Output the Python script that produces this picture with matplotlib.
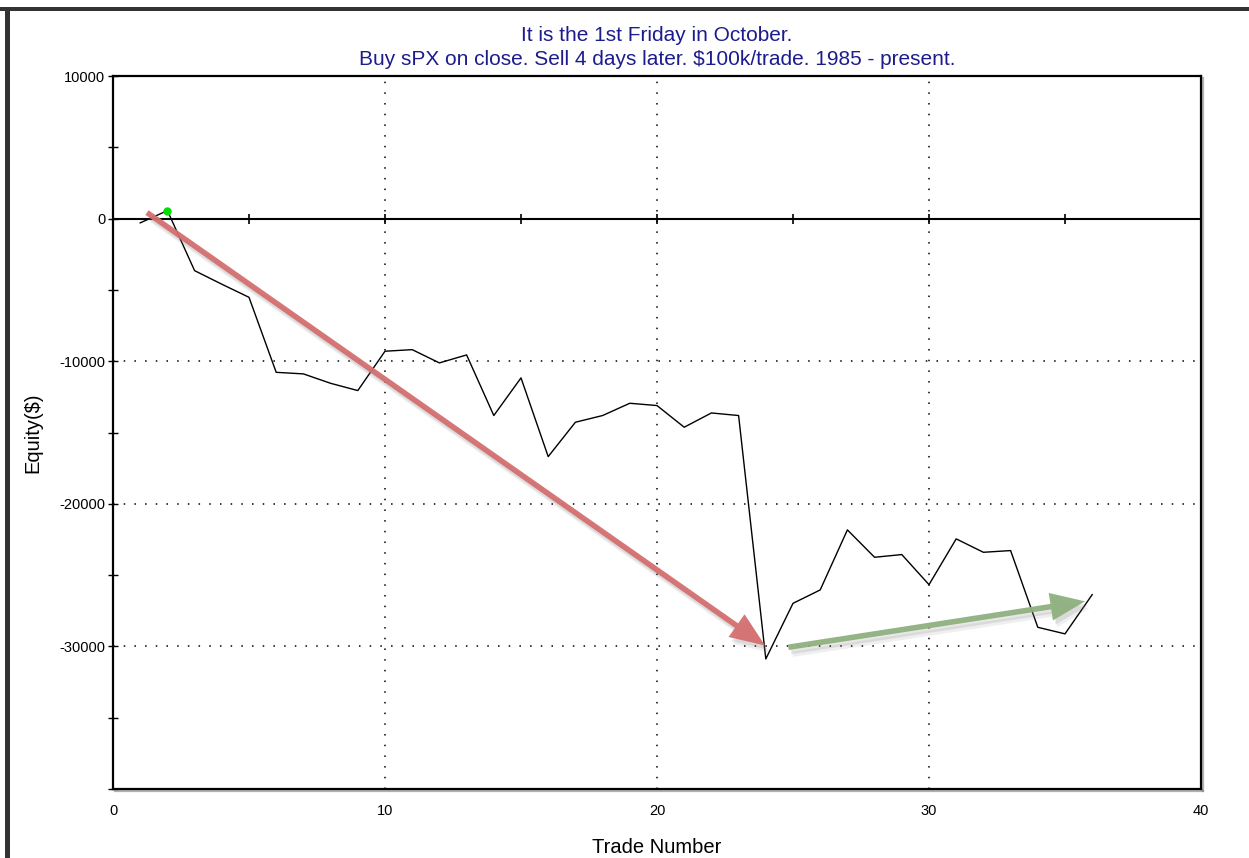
import numpy as np
import matplotlib
matplotlib.use("Agg")
import matplotlib.pyplot as plt
import matplotlib.patheffects as pe
from matplotlib.patches import Rectangle

# trade number vs cumulative equity
trades = np.arange(1, 37)
equity = [-300, 560, -3650, -4600, -5520, -10780, -10890, -11550, -12060, -9300,
          -9190, -10120, -9560, -13810, -11170, -16690, -14280, -13810, -12950, -13110,
          -14630, -13630, -13810, -30880, -26980, -26040, -21830, -23750, -23560, -25670,
          -22460, -23400, -23280, -28660, -29120, -26370]

# trend arrows (start, end) in data units
red_arrow = [(1.25, 420), (23.97, -29940)]
green_arrow = [(24.83, -30060), (35.74, -26840)]

title = "It is the 1st Friday in October.\nBuy sPX on close. Sell 4 days later. $100k/trade. 1985 - present."

plt.rcParams.update({
    "font.family": ["Liberation Sans", "DejaVu Sans"],
})

fig = plt.figure(figsize=(12.49, 8.58), dpi=100)
ax = fig.add_axes([113/1249, 1-789/858, (1201-113)/1249, (789-76)/858])

# dark frame at the top and left of the picture
fig.add_artist(Rectangle((0, 1-10.5/858), 1, 4/858, transform=fig.transFigure,
                         color="#333333", lw=0))
fig.add_artist(Rectangle((5/1249, 0), 5/1249, 1-10.5/858, transform=fig.transFigure,
                         color="#333333", lw=0))

ax.set_xlim(0, 40)
ax.set_ylim(-40000, 10000)
ax.set_xticks([0, 10, 20, 30, 40])
ax.set_yticks([-40000, -30000, -20000, -10000, 0, 10000])
ax.set_yticklabels(["", "-30000", "-20000", "-10000", "0", "10000"])
ax.set_yticks(np.arange(-35000, 10000, 10000), minor=True)

ax.grid(True, which="major", color="black", linestyle=(0, (1, 6)), linewidth=1.1)
ax.tick_params(axis="x", length=0, pad=11, labelsize=10.5)
ax.tick_params(axis="y", which="both", direction="inout", length=7, width=1,
               pad=2, labelsize=10.5)

for s in ax.spines.values():
    s.set_linewidth(1.6)
for side in ("right", "bottom"):
    ax.spines[side].set_path_effects([pe.SimpleLineShadow(offset=(1.5, -1.5), shadow_color="gray", alpha=0.6),
                                      pe.Normal()])

# zero line with its own ticks
ax.axhline(0, color="black", lw=1.5, zorder=3)
xt = np.arange(5, 40, 5)
ax.plot(xt, np.zeros_like(xt), ls="none", marker="|", ms=7, mew=1.2, color="black", zorder=3)

ax.plot(trades, equity, color="black", lw=1, zorder=4)
imax = int(np.argmax(equity))
ax.plot(trades[imax], equity[imax], "o", color="#00e000", ms=5, zorder=5)

# soft drop shadow under the arrows
shadow = [pe.SimplePatchShadow(offset=(3, -5), shadow_rgbFace="gray", alpha=0.12),
          pe.SimplePatchShadow(offset=(2, -3), shadow_rgbFace="gray", alpha=0.18),
          pe.Normal()]
astyle = "simple,head_length=1.25,head_width=1.0,tail_width=0.2"
ax.annotate("", xy=red_arrow[1], xytext=red_arrow[0],
            arrowprops=dict(arrowstyle=astyle, mutation_scale=20, fc="#d46f6f", ec="none",
                            alpha=0.95, shrinkA=0, shrinkB=0, path_effects=shadow),
            zorder=6)
ax.annotate("", xy=green_arrow[1], xytext=green_arrow[0],
            arrowprops=dict(arrowstyle=astyle, mutation_scale=20, fc="#8fb07f", ec="none",
                            alpha=0.95, shrinkA=0, shrinkB=0, path_effects=shadow),
            zorder=6)

ax.set_title(title, color="#1c1c8c", fontsize=15, pad=8, linespacing=1.32)
ax.set_xlabel("Trade Number", fontsize=14.5, labelpad=14)
ax.set_ylabel("Equity($)", fontsize=14.5, labelpad=12)

fig.savefig("out.png", dpi=100)
